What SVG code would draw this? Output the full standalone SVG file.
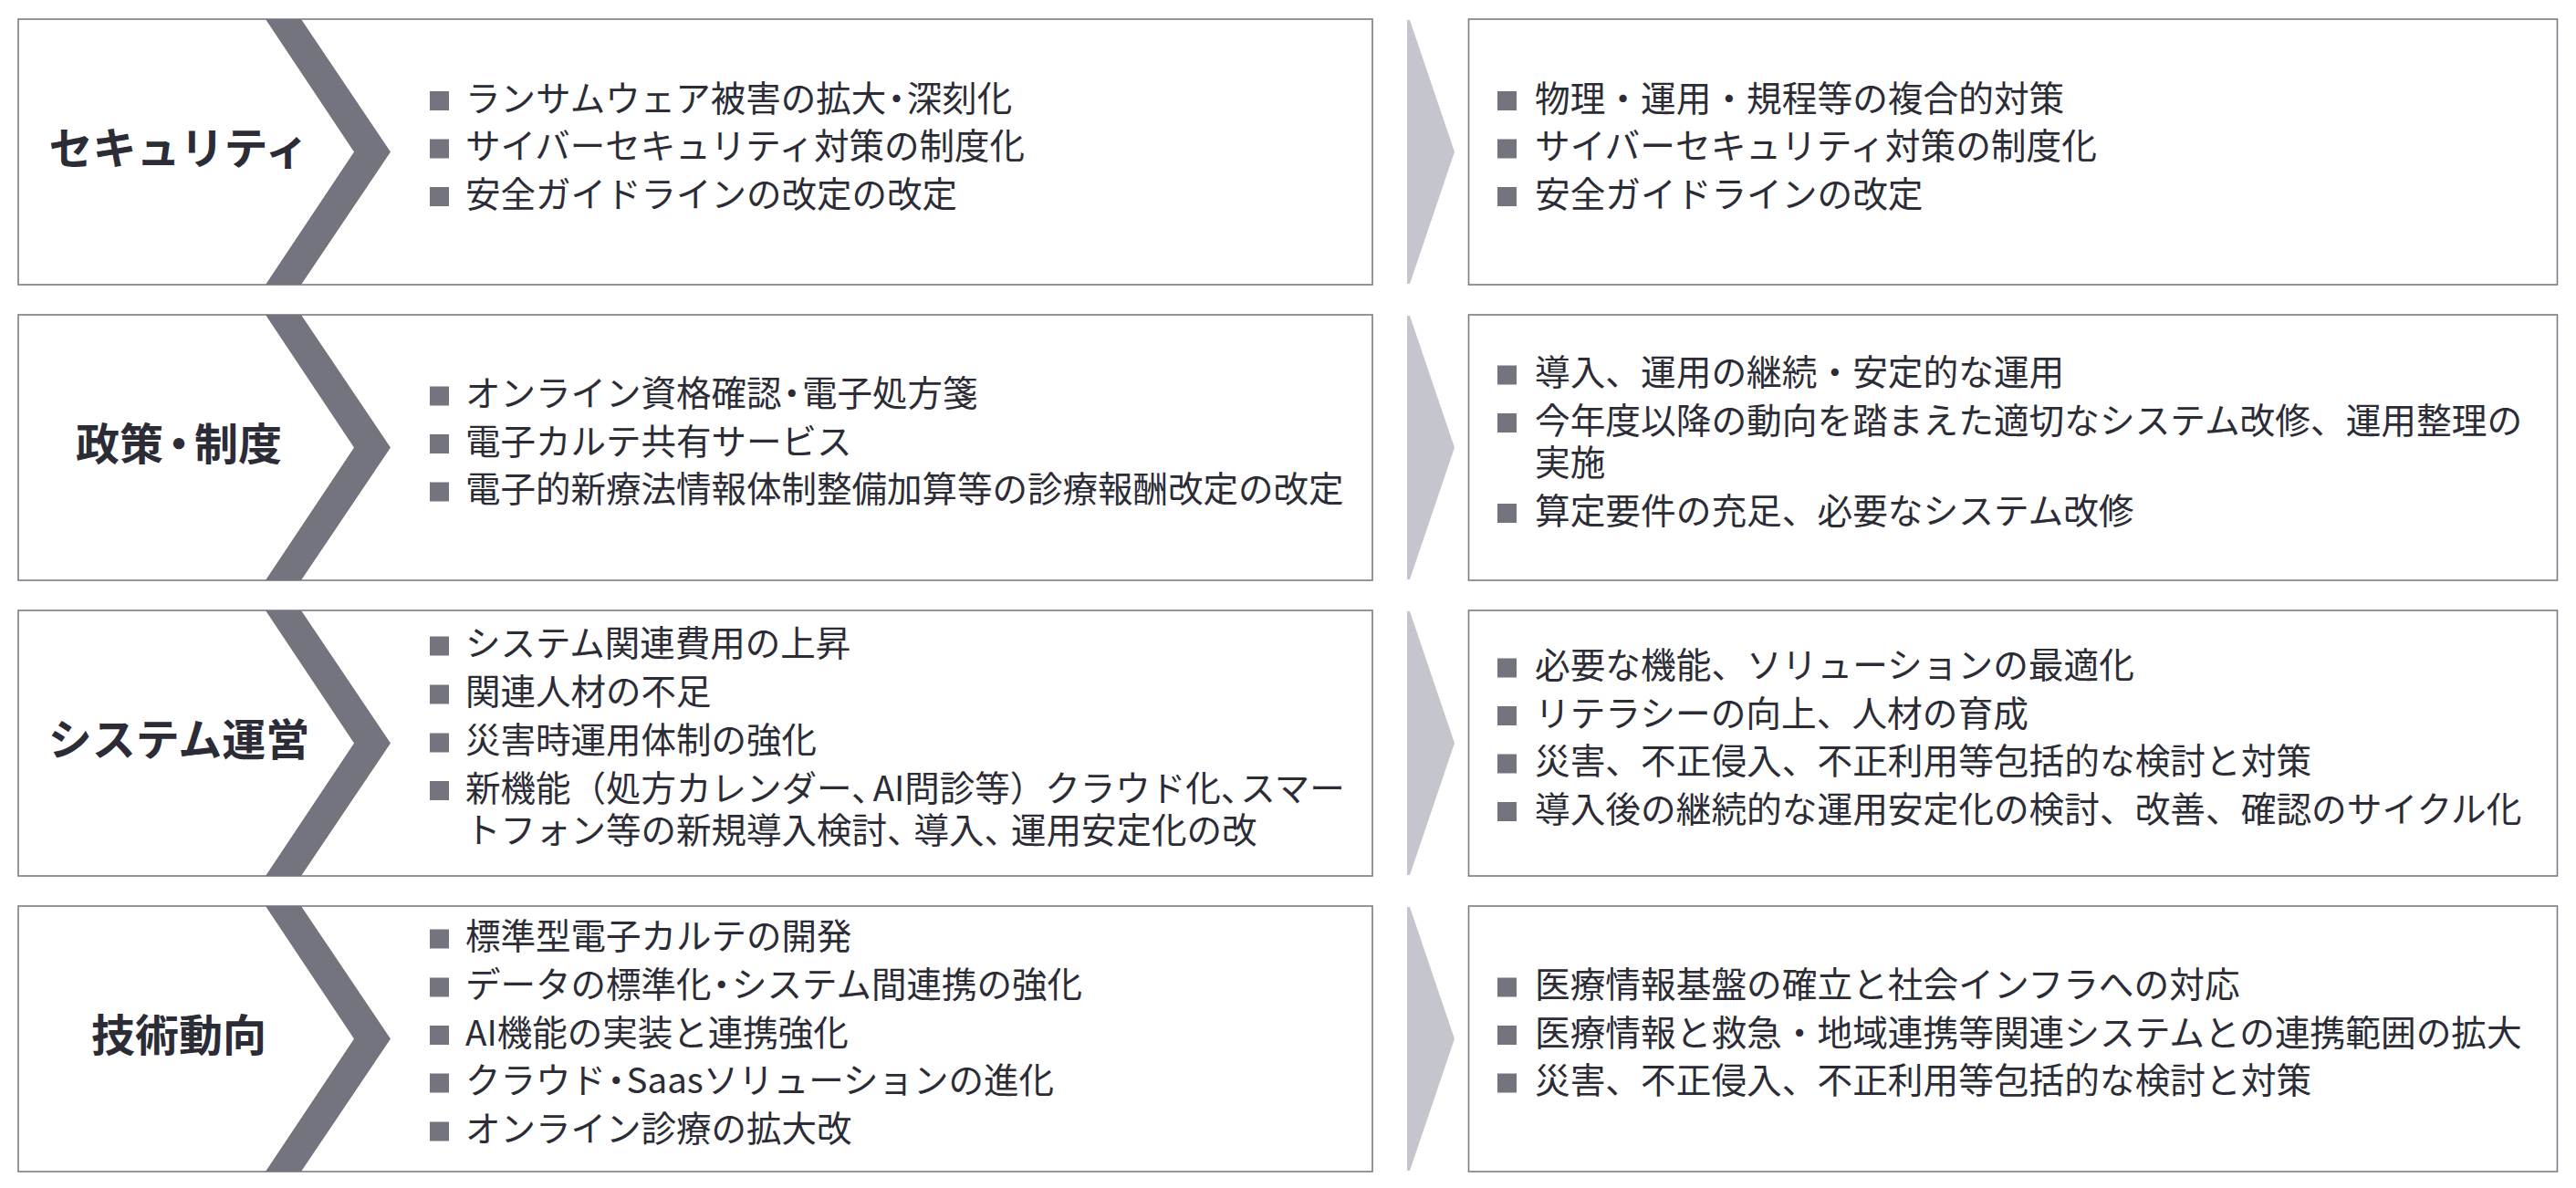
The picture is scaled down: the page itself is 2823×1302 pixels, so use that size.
<svg xmlns="http://www.w3.org/2000/svg" width="2823" height="1302" viewBox="0 0 2823 1302">
<style>
.box{fill:#ffffff;stroke:#7b7b86;stroke-width:1.6}
.chev{fill:#74747f}
.arrow{fill:#c5c6cd}
.bul{fill:#74747f}
.title{font-family:"Noto Sans CJK JP","Noto Sans CJK SC",sans-serif;font-weight:700;font-size:48px;fill:#2c2c36;text-anchor:middle}
.item{font-family:"Noto Sans CJK JP","Noto Sans CJK SC",sans-serif;font-size:38.5px;fill:#2c2c36}
.itemR{font-family:"Noto Sans CJK JP","Noto Sans CJK SC",sans-serif;font-size:38.7px;fill:#2c2c36}
</style>
<rect width="2823" height="1302" fill="#ffffff"/>

<g id="connectors">
<polygon class="arrow" points="1542,22 1545,22 1594,166.5 1545,311 1542,311"/>
<polygon class="arrow" points="1542,346 1545,346 1594,490.5 1545,635 1542,635"/>
<polygon class="arrow" points="1542,670 1545,670 1594,814.5 1545,959 1542,959"/>
<polygon class="arrow" points="1542,994 1545,994 1594,1138.5 1545,1283 1542,1283"/>
</g>

<g id="row1-left">
<rect class="box" x="20" y="21" width="1484" height="291"/>
<polygon class="chev" points="291,21 330,21 428,166.5 330,312 291,312 388,166.5"/>
<text class="title" x="196" y="179.5">セキュリティ</text>
<rect class="bul" x="471" y="100" width="21" height="21"/>
<rect class="bul" x="471" y="152.5" width="21" height="21"/>
<rect class="bul" x="471" y="205" width="21" height="21"/>
<text class="item" x="510" y="121.5">ランサムウェア被害の拡大<tspan dx="-8">・</tspan><tspan dx="-8">深刻化</tspan></text>
<text class="item" x="510" y="174">サイバーセキュリティ対策の制度化</text>
<text class="item" x="510" y="226.5">安全ガイドラインの改定の改定</text>
</g>

<g id="row1-right">
<rect class="box" x="1609.5" y="21" width="1193" height="291"/>
<rect class="bul" x="1641" y="100" width="21" height="21"/>
<rect class="bul" x="1641" y="152.5" width="21" height="21"/>
<rect class="bul" x="1641" y="205" width="21" height="21"/>
<text class="itemR" x="1682" y="121.5">物理・運用・規程等の複合的対策</text>
<text class="itemR" x="1682" y="174">サイバーセキュリティ対策の制度化</text>
<text class="itemR" x="1682" y="226.5">安全ガイドラインの改定</text>
</g>

<g id="row2-left">
<rect class="box" x="20" y="345" width="1484" height="291"/>
<polygon class="chev" points="291,345 330,345 428,490.5 330,636 291,636 388,490.5"/>
<text class="title" x="196" y="503.5">政策<tspan dx="-7">・</tspan><tspan dx="-7">制度</tspan></text>
<rect class="bul" x="471" y="423.5" width="21" height="21"/>
<rect class="bul" x="471" y="476" width="21" height="21"/>
<rect class="bul" x="471" y="528.5" width="21" height="21"/>
<text class="item" x="510" y="445">オンライン資格確認<tspan dx="-8">・</tspan><tspan dx="-8">電子処方箋</tspan></text>
<text class="item" x="510" y="497.5">電子カルテ共有サービス</text>
<text class="item" x="510" y="550">電子的新療法情報体制整備加算等の診療報酬改定の改定</text>
</g>

<g id="row2-right">
<rect class="box" x="1609.5" y="345" width="1193" height="291"/>
<rect class="bul" x="1641" y="400.5" width="21" height="21"/>
<rect class="bul" x="1641" y="453" width="21" height="21"/>
<rect class="bul" x="1641" y="552" width="21" height="21"/>
<text class="itemR" x="1682" y="422">導入、運用の継続・安定的な運用</text>
<text class="itemR" x="1682" y="474.5">今年度以降の動向を踏まえた適切なシステム改修、運用整理の</text>
<text class="itemR" x="1682" y="521">実施</text>
<text class="itemR" x="1682" y="573.5">算定要件の充足、必要なシステム改修</text>
</g>

<g id="row3-left">
<rect class="box" x="20" y="669" width="1484" height="291"/>
<polygon class="chev" points="291,669 330,669 428,814.5 330,960 291,960 388,814.5"/>
<text class="title" x="196" y="827.5">システム運営</text>
<rect class="bul" x="471" y="697.5" width="21" height="21"/>
<rect class="bul" x="471" y="750.5" width="21" height="21"/>
<rect class="bul" x="471" y="803.5" width="21" height="21"/>
<rect class="bul" x="471" y="856" width="21" height="21"/>
<text class="item" x="510" y="719">システム関連費用の上昇</text>
<text class="item" x="510" y="772">関連人材の不足</text>
<text class="item" x="510" y="825">災害時運用体制の強化</text>
<text class="item" x="510" y="877.5">新機能（処方カレンダー、<tspan dx="-15">AI問診等）クラウド化、</tspan><tspan dx="-17">スマー</tspan></text>
<text class="item" x="510" y="924">トフォン等の新規導入検討、<tspan dx="-9">導入、</tspan><tspan dx="-9">運用安定化の改</tspan></text>
</g>

<g id="row3-right">
<rect class="box" x="1609.5" y="669" width="1193" height="291"/>
<rect class="bul" x="1641" y="721.5" width="21" height="21"/>
<rect class="bul" x="1641" y="774" width="21" height="21"/>
<rect class="bul" x="1641" y="826.5" width="21" height="21"/>
<rect class="bul" x="1641" y="879" width="21" height="21"/>
<text class="itemR" x="1682" y="743">必要な機能、ソリューションの最適化</text>
<text class="itemR" x="1682" y="795.5">リテラシーの向上、人材の育成</text>
<text class="itemR" x="1682" y="848">災害、不正侵入、不正利用等包括的な検討と対策</text>
<text class="itemR" x="1682" y="900.5">導入後の継続的な運用安定化の検討、改善、確認のサイクル化</text>
</g>

<g id="row4-left">
<rect class="box" x="20" y="993" width="1484" height="291"/>
<polygon class="chev" points="291,993 330,993 428,1138.5 330,1284 291,1284 388,1138.5"/>
<text class="title" x="196" y="1151.5">技術動向</text>
<rect class="bul" x="471" y="1018.5" width="21" height="21"/>
<rect class="bul" x="471" y="1071.5" width="21" height="21"/>
<rect class="bul" x="471" y="1124" width="21" height="21"/>
<rect class="bul" x="471" y="1176.5" width="21" height="21"/>
<rect class="bul" x="471" y="1229.5" width="21" height="21"/>
<text class="item" x="510" y="1040">標準型電子カルテの開発</text>
<text class="item" x="510" y="1093">データの標準化<tspan dx="-8">・</tspan><tspan dx="-8">システム間連携の強化</tspan></text>
<text class="item" x="510" y="1145.5">AI機能の実装と連携強化</text>
<text class="item" x="510" y="1198">クラウド<tspan dx="-8">・</tspan><tspan dx="-8">Saasソリューションの進化</tspan></text>
<text class="item" x="510" y="1251">オンライン診療の拡大改</text>
</g>

<g id="row4-right">
<rect class="box" x="1609.5" y="993" width="1193" height="291"/>
<rect class="bul" x="1641" y="1071.5" width="21" height="21"/>
<rect class="bul" x="1641" y="1124" width="21" height="21"/>
<rect class="bul" x="1641" y="1176.5" width="21" height="21"/>
<text class="itemR" x="1682" y="1093">医療情報基盤の確立と社会インフラへの対応</text>
<text class="itemR" x="1682" y="1145.5">医療情報と救急・地域連携等関連システムとの連携範囲の拡大</text>
<text class="itemR" x="1682" y="1198">災害、不正侵入、不正利用等包括的な検討と対策</text>
</g>
</svg>
